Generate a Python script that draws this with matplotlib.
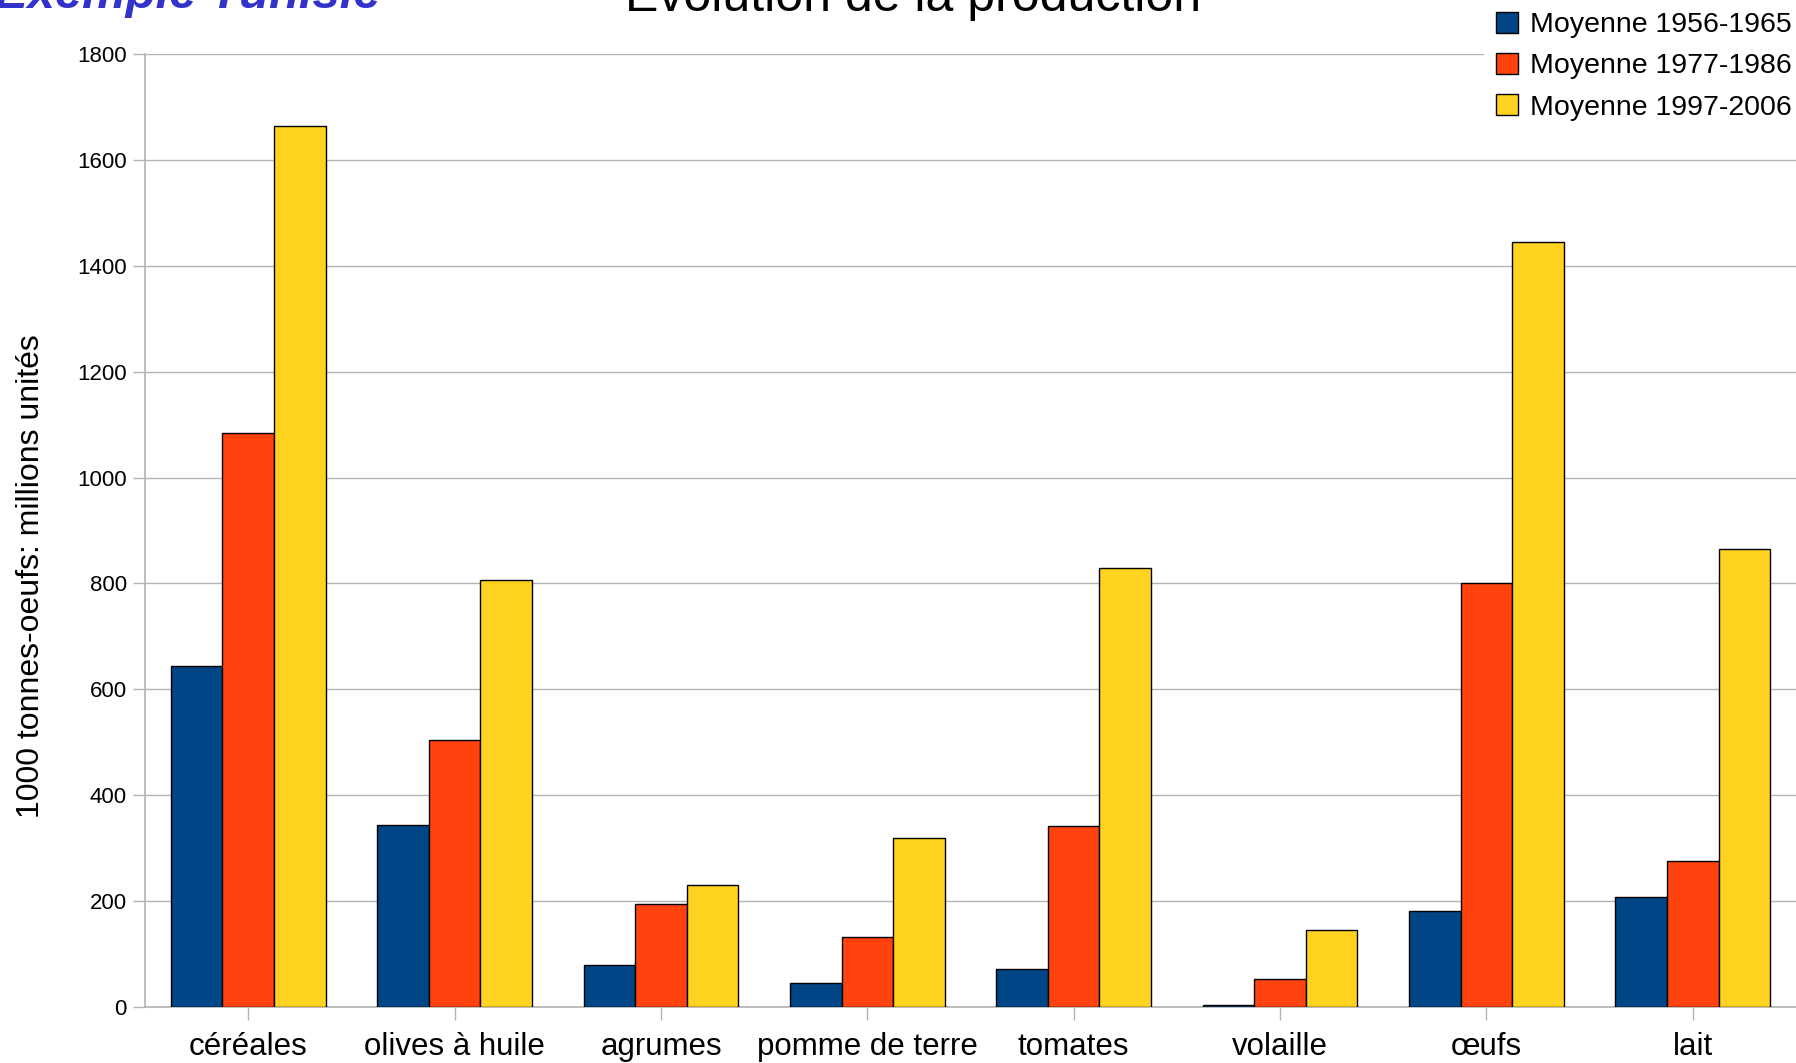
import matplotlib
matplotlib.use("Agg")
import matplotlib.pyplot as plt
import numpy as np
from matplotlib.patches import Patch

categories = ["céréales", "olives à huile", "agrumes", "pomme de terre",
              "tomates", "volaille", "œufs", "lait"]
series_names = ["Moyenne 1956-1965", "Moyenne 1977-1986", "Moyenne 1997-2006"]
v_1956_1965 = [645, 344, 80, 45, 71, 4, 182, 208]
v_1977_1986 = [1084, 504, 195, 132, 342, 52, 800, 275]
v_1997_2006 = [1664, 807, 231, 320, 829, 145, 1445, 865]
yticks = [0, 200, 400, 600, 800, 1000, 1200, 1400, 1600, 1800]

colors = ["#004586", "#ff420e", "#ffd320"]
plt.rcParams['font.family'] = ['Liberation Sans', 'DejaVu Sans']

fig = plt.figure(figsize=(17.96, 10.63), dpi=100)
ax = fig.add_axes([145/1796, 1-1007/1063, 1-145/1796, (1007-54)/1063])

x = np.arange(len(categories))
w = 0.25
for i, vals in enumerate([v_1956_1965, v_1977_1986, v_1997_2006]):
    ax.bar(x + (i-1)*w, vals, width=w, color=colors[i], edgecolor="black",
           linewidth=1.0, zorder=3, label=series_names[i])

ax.set_xlim(-0.5, 7.5)
ax.set_ylim(0, 1800)
ax.set_yticks(yticks)
ax.set_yticklabels([str(t) for t in yticks], fontsize=16)
ax.set_xticks(x)
ax.set_xticklabels(categories, fontsize=22.5)
ax.yaxis.grid(True, color="#b3b3b3", linewidth=1.0, zorder=0)
ax.tick_params(axis="y", length=9, color="#b3b3b3", width=1, pad=4)
ax.tick_params(axis="x", length=9, color="#b3b3b3", width=1, pad=9,
               direction="out")
for s in ["top", "right"]:
    ax.spines[s].set_visible(False)
for s in ["left", "bottom"]:
    ax.spines[s].set_color("#b3b3b3")
    ax.spines[s].set_linewidth(1.2)

fig.text(31/1796, 1-576/1063, "1000 tonnes-oeufs: millions unités",
         fontsize=23, rotation=90, ha="center", va="center")

handles = [Patch(facecolor=colors[i], edgecolor="black", linewidth=1.0)
           for i in range(3)]
leg = fig.legend(handles, series_names, loc="upper right",
                 bbox_to_anchor=(1.0045, 1.0), fontsize=20.5, frameon=True,
                 framealpha=1, facecolor="white", edgecolor="none",
                 handlelength=0.75, handleheight=0.75, handletextpad=0.45,
                 labelspacing=0.52, borderpad=0.42, borderaxespad=0.0)
leg.set_zorder(10)

fig.text(913/1796, 1-11/1063, "Evolution de la production", fontsize=36,
         ha="center", va="baseline")
fig.text(-5/1796, 1-8/1063, "Exemple Tunisie", fontsize=35.3, color="#3333cc",
         fontweight="bold", fontstyle="italic", ha="left", va="baseline")

fig.savefig("out.png", dpi=100)
